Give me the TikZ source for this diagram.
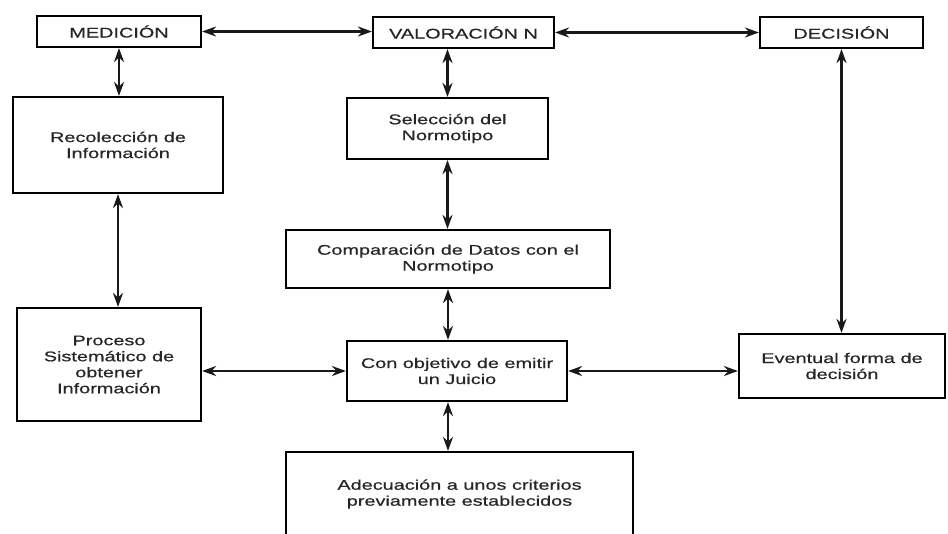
\documentclass[tikz,border=0pt]{standalone}
\usepackage{fontspec}
\setmainfont{Liberation Sans}[FakeStretch=1.42, FakeBold=0.6]
\usepackage{tikz}
\usetikzlibrary{
  arrows.meta
  , calc
}

\begin{document}
\begin{tikzpicture}[x=1pt, y=-1pt,
    box/.style={draw, rectangle, line width=2.2pt, align=center, inner sep=0pt,
      font=\fontsize{14}{16}\selectfont, text=black!85},
    link/.style={{Stealth[length=14pt,width=10pt]}-{Stealth[length=14pt,width=10pt]}, line width=2.2pt, black!90},
  ]
      \useasboundingbox (0,0) rectangle (948,533);
      \clip (0,0) rectangle (948,533);

      % top row
      \node [box, minimum width=164, minimum height=31] (med) at (119, 31.5){MEDICIÓN};
      \node [box, minimum width=181, minimum height=31] (val) at (463.5, 32.5){VALORACIÓN N};
      \node [box, minimum width=163, minimum height=31] (dec) at (841.5, 32.5){DECISIÓN};

      % left column
      \node [box, minimum width=210, minimum height=96] (rec) at (118, 145){Recolección de\\Información};
      \node [box, minimum width=184, minimum height=113] (proc) at (109, 364.5){Proceso\\Sistemático de\\obtener\\Información};

      % middle column
      \node [box, minimum width=201, minimum height=61] (sel) at (447.5, 128.5){Selección del\\Normotipo};
      \node [box, minimum width=324, minimum height=58] (comp) at (448, 259){Comparación de Datos con el\\Normotipo};
      \node [box, minimum width=220, minimum height=60] (juic) at (457, 371){Con objetivo de emitir\\un Juicio};
      \node [box, minimum width=347, minimum height=84] (adec) at (459.5, 494){Adecuación a unos criterios\\previamente establecidos};

      % right column
      \node [box, minimum width=206, minimum height=64] (event) at (842, 366){Eventual forma de\\decisión};

      \draw[link] (med.east) -- (med.east -| val.west);
      \draw[link] (val.east) -- (val.east -| dec.west);
      \draw[link] (med.south) -- (med.south |- rec.north);
      \draw[link] (rec.south) -- (rec.south |- proc.north);
      \draw[link] (sel.north |- val.south) -- (sel.north);
      \draw[link] (sel.south) -- (sel.south |- comp.north);
      \draw[link] (comp.south) -- (comp.south |- juic.north);
      \draw[link] (comp.south |- juic.south) -- (comp.south |- adec.north);
      \draw[link] (juic.west) -- (juic.west -| proc.east);
      \draw[link] (juic.east) -- (juic.east -| event.west);
      \draw[link] (dec.south) -- (dec.south |- event.north);
    \end{tikzpicture}
\end{document}
